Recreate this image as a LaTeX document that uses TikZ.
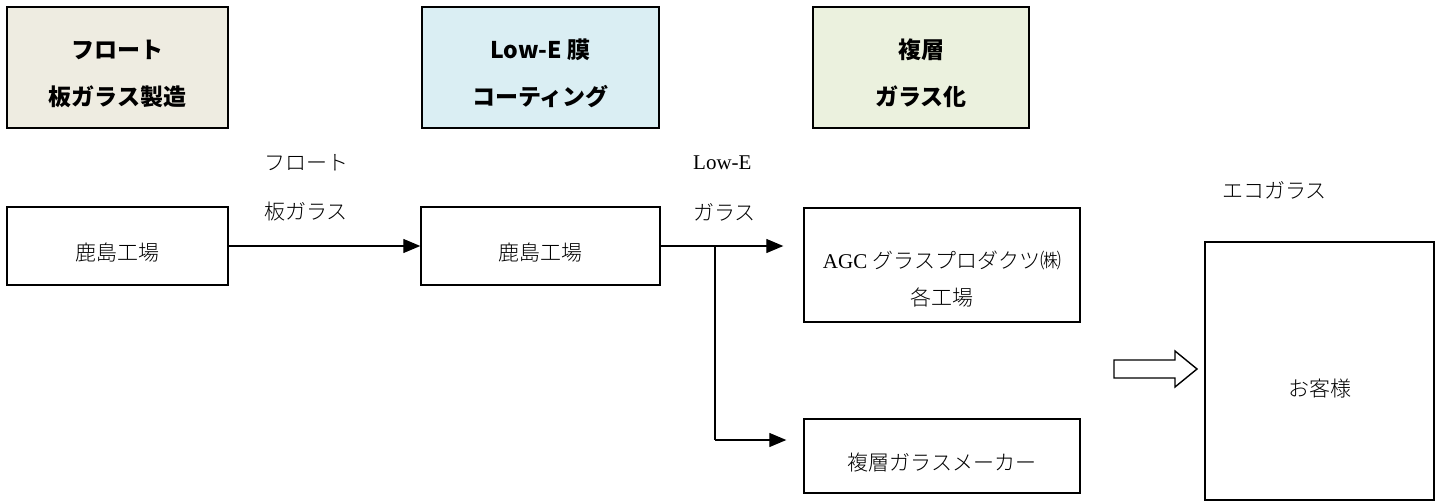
\documentclass[tikz,border=0pt]{standalone}
\usepackage{fontspec}
\setmainfont{Liberation Serif}
\newfontfamily\jp{Noto Sans CJK JP}
\newfontfamily\jpl{Noto Sans CJK JP Light}
\usetikzlibrary{arrows.meta}
\definecolor{hbeige}{HTML}{EEECE1}
\definecolor{hblue}{HTML}{DAEEF3}
\definecolor{hgreen}{HTML}{EBF1DE}
\begin{document}
\begin{tikzpicture}[x=1pt,y=-1pt,
  hdr/.style={draw=black,line width=1.4pt,inner sep=0pt,align=center,
    minimum height=121pt,font=\jp\bfseries\fontsize{23}{47}\selectfont},
  box/.style={draw=black,line width=1.4pt,inner sep=0pt,align=center,
    font=\fontsize{21}{37}\selectfont},
  lbl/.style={anchor=west,inner sep=0pt,font=\fontsize{21}{24}\selectfont},
  flow/.style={line width=1.3pt,-{Triangle[length=17pt,width=14pt]}}]
\useasboundingbox (0,0) rectangle (1437,503);
% headers
\node[hdr,fill=hbeige,minimum width=221pt] (h1) at (117.5,67.5) {\rule{0pt}{32pt}フロート\\板ガラス製造};
\node[hdr,fill=hblue,minimum width=237pt] (h2) at (540.5,67.5) {\rule{0pt}{32pt}Low-E 膜\\コーティング};
\node[hdr,fill=hgreen,minimum width=216pt] (h3) at (921,67.5) {\rule{0pt}{32pt}複層\\ガラス化};
% boxes
\node[box,minimum width=221pt,minimum height=78pt] (k1) at (117.5,246) {\rule{0pt}{30pt}{\jpl 鹿島工場}};
\node[box,minimum width=239pt,minimum height=78pt] (k2) at (540.5,246) {\rule{0pt}{30pt}{\jpl 鹿島工場}};
\node[box,minimum width=276pt,minimum height=114pt] (agc) at (942,265) {\rule{0pt}{45pt}AGC {\jpl グラスプロダクツ㈱}\\{\jpl 各工場}};
\node[box,minimum width=276pt,minimum height=74pt] (mk) at (942,456) {\rule{0pt}{30pt}{\jpl 複層ガラスメーカー}};
\node[box,minimum width=229pt,minimum height=258pt] (cu) at (1319.5,371) {\rule{0pt}{53pt}{\jpl お客様}};
% labels
\node[lbl] (l1) at (264,163) {{\jpl フロート}};
\node[lbl] (l2) at (264,212) {{\jpl 板ガラス}};
\node[lbl] (l3) at (693,163) {Low-E};
\node[lbl] (l4) at (693,212) {{\jpl ガラス}};
\node[lbl] (l5) at (1222,190) {{\jpl エコガラス}};
% connectors
\draw[flow] (k1.east) -- (k2.west);
\coordinate (br) at (715,246);
\coordinate (bb) at (715,440);
\draw[flow,shorten >=20pt] (k2.east) -- (agc.west |- k2.east);
\draw[line width=1.3pt] (br) -- (bb);
\draw[flow,shorten >=17pt] (bb) -- (mk.west |- bb);
% hollow arrow
\draw[line width=1.4pt,line join=miter,fill=white]
  (1114,360) -- (1175,360) -- (1175,351) -- (1197,369) -- (1175,387)
  -- (1175,378) -- (1114,378) -- cycle;
\end{tikzpicture}
\end{document}
